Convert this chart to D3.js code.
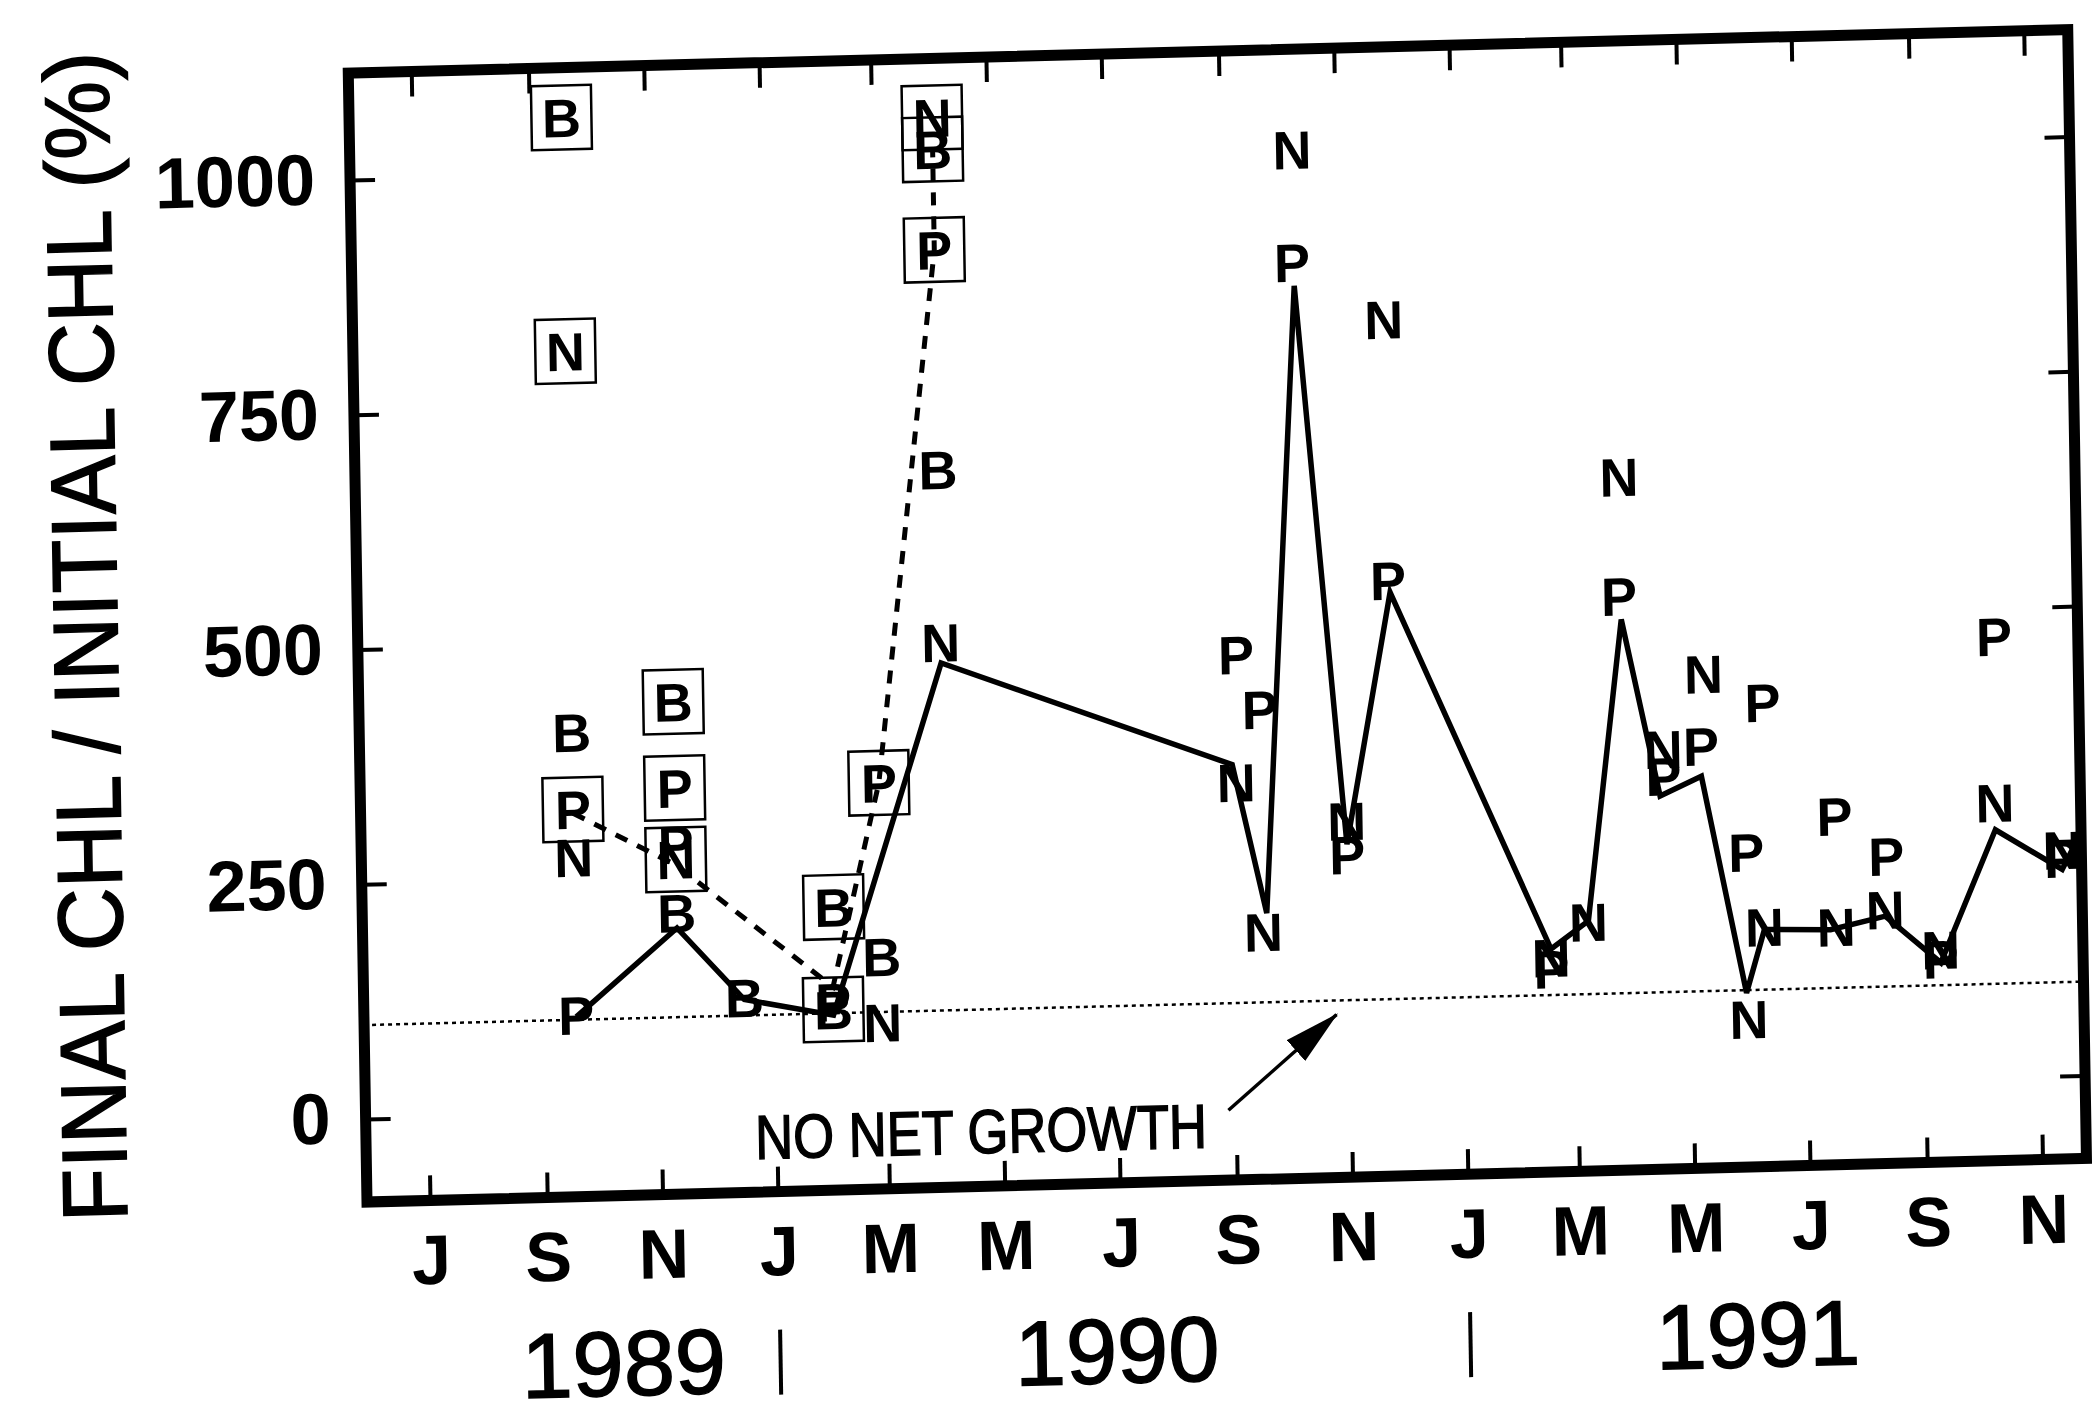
<!DOCTYPE html>
<html lang="en">
<head>
<meta charset="UTF-8">
<title>Final CHL / Initial CHL, 1989-1991</title>
<script src="https://cdn.jsdelivr.net/npm/d3@7"></script>
<style>
    body { margin: 0; background: #fff; }
    svg { display: block; }
    text { font-family: "Liberation Sans", Arial, sans-serif; fill: #000; }
</style>
</head>
<body>
<svg width="2094" height="1408"></svg>
<script>
    // month ticks along the time axis (every 2 months) and their letters
    const tickDates = ["1989-07-01","1989-09-01","1989-11-01","1990-01-01","1990-03-01","1990-05-01",
                       "1990-07-01","1990-09-01","1990-11-01","1991-01-01","1991-03-01","1991-05-01",
                       "1991-07-01","1991-09-01","1991-11-01"]
    const monthLabels = ["J","S","N","J","M","M","J","S","N","J","M","M","J","S","N"]
    const yTicks = [0, 250, 500, 750, 1000]

    // year labels and the year separators
    const yearLabels = [["1989","1989-10-10"],["1990","1990-06-28"],["1991","1991-06-02"]]
    const yearBreaks = ["1990-01-01","1991-01-01"]

    // level of "no net growth" (final = initial)
    const refLevel = 100

    // solid line
    const solidLine = [
        ["1989-09-18",103],["1989-11-11",195],["1989-12-16",117],["1990-02-01",98],
        ["1990-04-02",470],["1990-09-02",354],["1990-09-19",195],["1990-10-09",862],
        ["1990-11-01",266],["1990-11-26",533],["1991-02-16",149],["1991-03-08",178],
        ["1991-03-28",498],["1991-04-16",309],["1991-05-08",329],["1991-05-30",97],
        ["1991-06-09",164],["1991-07-14",162],["1991-08-12",175],["1991-09-10",124],
        ["1991-10-10",264],["1991-11-14",220],["1991-11-24",258]
    ]

    // dashed line (boxed series)
    const dashedLine = [
        ["1989-09-18",320],["1989-11-11",262],["1990-02-01",128],
        ["1990-02-27",344],["1990-04-02",910],["1990-04-02",1017]
    ]

    // boxed letters [date, value, letter]
    const boxedMarks = [
        ["1989-09-18",1061,"B"],["1989-09-18",812,"N"],["1989-09-18",324,"P"],
        ["1989-11-11",436,"B"],["1989-11-11",344,"P"],["1989-11-11",268,"N"],
        ["1990-02-01",104,"B"],["1990-02-02",213,"B"],
        ["1990-02-27",344,"P"],
        ["1990-04-02",1051,"N"],["1990-04-02",1017,"B"],["1990-04-02",910,"P"]
    ]

    // plain letters [date, value, letter]
    const plainMarks = [
        ["1989-09-18",406,"B"],["1989-09-18",273,"N"],["1989-09-18",105,"P"],
        ["1989-11-11",284,"P"],["1989-11-11",211,"B"],
        ["1989-12-16",119,"B"],
        ["1990-02-01",112,"P"],
        ["1990-02-27",89,"N"],["1990-02-27",159,"B"],
        ["1990-04-02",676,"B"],["1990-04-02",492,"N"],
        ["1990-09-05",471,"P"],["1990-09-04",335,"N"],
        ["1990-09-17",412,"P"],["1990-09-17",175,"N"],
        ["1990-10-09",1007,"N"],["1990-10-08",887,"P"],
        ["1990-11-01",291,"N"],["1990-11-01",255,"P"],
        ["1990-11-25",824,"N"],["1990-11-25",546,"P"],
        ["1991-02-16",140,"N"],["1991-02-16",128,"P"],
        ["1991-03-08",177,"N"],
        ["1991-03-28",650,"N"],["1991-03-27",523,"P"],
        ["1991-04-18",359,"N"],["1991-04-18",330,"P"],
        ["1991-05-10",438,"N"],["1991-05-08",361,"P"],
        ["1991-05-31",247,"P"],["1991-05-31",69,"N"],
        ["1991-06-10",406,"P"],["1991-06-09",167,"N"],
        ["1991-07-17",283,"P"],["1991-07-17",165,"N"],
        ["1991-08-13",239,"P"],["1991-08-12",182,"N"],
        ["1991-09-10",138,"N"],["1991-09-10",128,"P"],
        ["1991-10-11",470,"P"],["1991-10-10",293,"N"],
        ["1991-11-14",241,"N"],["1991-11-14",232,"P"]
    ]

    const parse = d3.timeParse("%Y-%m-%d")

    // frame of the plot
    const frameL = 367, frameR = 2087, frameT = 73, frameB = 1202

    let x = d3.scaleTime()
        .domain([parse("1989-07-01"), parse("1991-11-01")])
        .range([430, 2043])
    let y = d3.scaleLinear()
        .domain([0, 1000])
        .range([1119, 180])

    let svg = d3.select("svg")
    let defs = svg.append("defs")

    // the scanned figure is slightly tilted
    let chart = svg.append("g")
        .attr("transform", `translate(${frameL},${frameB}) rotate(-1.45) skewX(-0.5) translate(${-frameL},${-frameB})`)

    defs.append("clipPath").attr("id", "plotClip")
        .append("rect")
        .attr("x", frameL).attr("y", frameT)
        .attr("width", frameR - frameL).attr("height", frameB - frameT)

    let arrowDef = defs.append("marker")
        .attr("id", "arrowHead")
        .attr("markerUnits", "userSpaceOnUse")
        .attr("viewBox", "0 0 56 28")
        .attr("markerWidth", 56).attr("markerHeight", 28)
        .attr("refX", 54).attr("refY", 14)
        .attr("orient", "auto")
    arrowDef.append("path").attr("d", "M0,0 L56,14 L0,28 Z").attr("fill", "#000")

    // axes (ticks point inward)
    let tickVals = tickDates.map(parse)
    let gBottom = chart.append("g")
        .attr("transform", `translate(0,${frameB})`)
        .call(d3.axisBottom(x).tickValues(tickVals)
            .tickFormat((d, i) => monthLabels[i])
            .tickSizeInner(-25).tickSizeOuter(0).tickPadding(34))
    gBottom.selectAll("text")
        .style("font-size", "70px").style("font-weight", "bold")

    chart.append("g")
        .attr("transform", `translate(0,${frameT})`)
        .call(d3.axisTop(x).tickValues(tickVals).tickFormat("")
            .tickSizeInner(-25).tickSizeOuter(0))

    let gLeft = chart.append("g")
        .attr("transform", `translate(${frameL},0)`)
        .call(d3.axisLeft(y).tickValues(yTicks).tickFormat(d3.format("d"))
            .tickSizeInner(-25).tickSizeOuter(0).tickPadding(35))
    gLeft.selectAll("text")
        .style("font-size", "72px").style("font-weight", "bold")

    chart.append("g")
        .attr("transform", `translate(${frameR},0)`)
        .call(d3.axisRight(y).tickValues(yTicks).tickFormat("")
            .tickSizeInner(-25).tickSizeOuter(0))

    chart.selectAll(".domain").remove()
    chart.selectAll(".tick line").attr("stroke", "#000").attr("stroke-width", 4)
    chart.selectAll(".tick text").attr("fill", "#000").style("font-family", "'Liberation Sans', Arial, sans-serif")

    // frame
    chart.append("rect")
        .attr("x", frameL).attr("y", frameT)
        .attr("width", frameR - frameL).attr("height", frameB - frameT)
        .attr("fill", "none").attr("stroke", "#000").attr("stroke-width", 11)

    // y title
    chart.append("text")
        .attr("transform", `translate(127,630) rotate(-90)`)
        .attr("text-anchor", "middle")
        .attr("textLength", 1170).attr("lengthAdjust", "spacingAndGlyphs")
        .attr("stroke", "#000").attr("stroke-width", 1.5)
        .style("font-size", "92px")
        .text("FINAL CHL / INITIAL CHL (%)")

    // years
    chart.selectAll(".year")
        .data(yearLabels)
        .enter()
        .append("text")
        .attr("class", "year")
        .attr("x", d => x(parse(d[1])))
        .attr("y", 1402)
        .attr("text-anchor", "middle")
        .attr("stroke", "#000").attr("stroke-width", 1.5)
        .style("font-size", "92px")
        .text(d => d[0])

    chart.selectAll(".yearBreak")
        .data(yearBreaks)
        .enter()
        .append("line")
        .attr("x1", d => x(parse(d))).attr("x2", d => x(parse(d)))
        .attr("y1", 1340).attr("y2", 1405)
        .attr("stroke", "#000").attr("stroke-width", 4)

    let plot = chart.append("g").attr("clip-path", "url(#plotClip)")

    // no net growth line
    plot.append("line")
        .attr("x1", frameL).attr("x2", frameR)
        .attr("y1", y(refLevel)).attr("y2", y(refLevel))
        .attr("stroke", "#000").attr("stroke-width", 2.5)
        .attr("stroke-dasharray", "4,4")

    let line = d3.line()
        .x(d => x(parse(d[0])))
        .y(d => y(d[1]))

    plot.append("path")
        .datum(dashedLine)
        .attr("d", line)
        .attr("fill", "none").attr("stroke", "#000")
        .attr("stroke-width", 5).attr("stroke-dasharray", "13,11")

    plot.append("path")
        .datum(solidLine)
        .attr("d", line)
        .attr("fill", "none").attr("stroke", "#000")
        .attr("stroke-width", 5.5).attr("stroke-linejoin", "miter")

    // boxed letters
    let boxG = plot.selectAll(".boxed")
        .data(boxedMarks)
        .enter()
        .append("g")
        .attr("class", "boxed")
        .attr("transform", d => `translate(${x(parse(d[0]))},${y(d[1])})`)
    boxG.append("rect")
        .attr("x", -30).attr("y", -32)
        .attr("width", 60).attr("height", 64)
        .attr("fill", "none").attr("stroke", "#000").attr("stroke-width", 2.5)
    boxG.append("text")
        .attr("text-anchor", "middle").attr("dy", "0.36em")
        .style("font-size", "54px").style("font-weight", "bold")
        .text(d => d[2])

    // plain letters
    plot.selectAll(".plain")
        .data(plainMarks)
        .enter()
        .append("text")
        .attr("class", "plain")
        .attr("x", d => x(parse(d[0])))
        .attr("y", d => y(d[1]))
        .attr("text-anchor", "middle").attr("dy", "0.36em")
        .style("font-size", "54px").style("font-weight", "bold")
        .text(d => d[2])

    // annotation
    chart.append("text")
        .attr("x", x(parse("1990-04-19")))
        .attr("y", y(-53))
        .attr("text-anchor", "middle")
        .attr("textLength", 452).attr("lengthAdjust", "spacingAndGlyphs")
        .attr("stroke", "#000").attr("stroke-width", 1.5)
        .style("font-size", "62px")
        .text("NO NET GROWTH")

    chart.append("line")
        .attr("x1", x(parse("1990-08-28"))).attr("y1", y(-14))
        .attr("x2", x(parse("1990-10-25"))).attr("y2", y(85))
        .attr("stroke", "#000").attr("stroke-width", 3.5)
        .attr("marker-end", "url(#arrowHead)")
</script>
</body>
</html>
